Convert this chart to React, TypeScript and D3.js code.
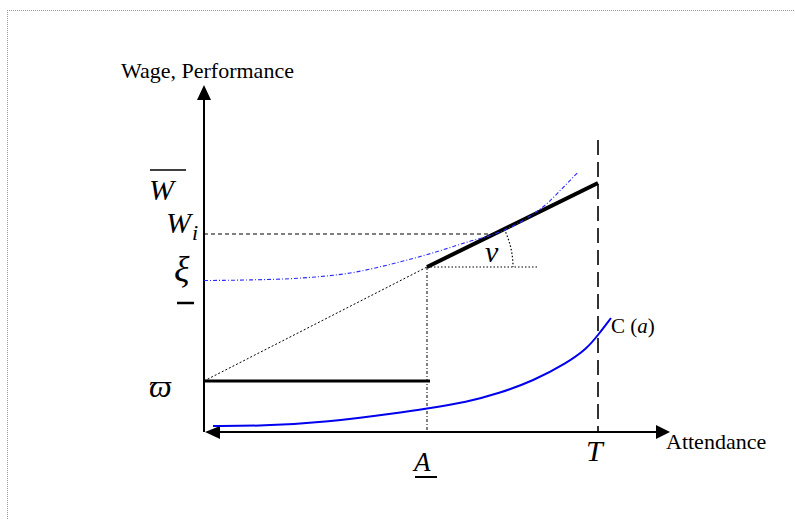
import React from "react";
import * as d3 from "d3";

// Axis markers on the attendance axis
const markLabels = ["A", "T"];
const markValues = [56.6, 100];

// Wage levels
const wageFloor = 17; // ϖ
const xiLevel = 50.5; // ξ
const wiLevel = 66; // W_i
const wageAtA = 55;
const wageAtT = 83; // W̄
const angleRefEnd = 84.8;
const tLineTop = 97.3;

// Performance curve (blue dash-dot)
const perfAttendance = [0, 11.7, 24.4, 37.1, 49.7, 58.1, 66.8, 74.4, 83.5, 87.1, 90.4, 95];
const perfValue = [50.5, 50.7, 51.3, 53, 56.7, 59.7, 63.3, 66.3, 72.6, 76.2, 80.5, 86.7];

// Cost curve C(a)
const costAttendance = [2.3, 14.7, 31.5, 48.5, 56.1, 66.8, 75.1, 83.5, 92.1, 97.2, 100, 103.3];
const costValue = [2, 2, 3.3, 6.3, 7.7, 10, 13, 17, 23, 27.8, 32.3, 38];

const W = 795;
const H = 519;

export default function App() {
  const xs = d3.scaleLinear().domain([0, 100]).range([204, 598]);
  const ys = d3.scaleLinear().domain([0, 100]).range([432, 132]);

  const A = markValues[0];
  const T = markValues[1];

  const perfLine = d3
    .line<[number, number]>()
    .x((d) => xs(d[0]))
    .y((d) => ys(d[1]))
    .curve(d3.curveMonotoneX);

  const costLine = d3
    .line<[number, number]>()
    .x((d) => xs(d[0]))
    .y((d) => ys(d[1]))
    .curve(d3.curveBasis);

  const perfPts = perfAttendance.map((a, i) => [a, perfValue[i]] as [number, number]);
  const costPts = costAttendance.map((a, i) => [a, costValue[i]] as [number, number]);

  const slope = (wageAtT - wageAtA) / (T - A);
  const wiX = A + (wiLevel - wageAtA) / slope;

  // angle arc around the start of the wage segment
  const cx = xs(A);
  const cy = ys(wageAtA);
  const r = 86;
  const ang = Math.atan2(ys(wageAtT) - cy, xs(T) - cx);
  const arcPath = `M${cx + r * Math.cos(ang)},${cy + r * Math.sin(ang)} A${r},${r} 0 0 1 ${cx + r},${cy}`;

  const x0 = xs(0);
  const y0 = ys(0);
  const serif = "'Liberation Serif', 'DejaVu Serif', serif";

  return (
    <div style={{ position: "fixed", left: 0, top: 0 }}>
      <svg width={W} height={H} style={{ display: "block", background: "#fff" }}>
        {/* frame */}
        <line x1={7} y1={10.5} x2={W} y2={10.5} stroke="#999" strokeWidth={1} strokeDasharray="1,1" />
        <line x1={7.5} y1={10} x2={7.5} y2={H} stroke="#999" strokeWidth={1} strokeDasharray="1,1" />

        {/* axes */}
        <line x1={x0} y1={y0} x2={x0} y2={98} stroke="#000" strokeWidth={2} />
        <path d={`M${x0},85 L${x0 - 7},100 L${x0 + 7},100 Z`} fill="#000" />
        <line x1={x0 + 10} y1={y0} x2={658} y2={y0} stroke="#000" strokeWidth={2} />
        <path d={`M670,${y0} L656,${y0 - 7} L656,${y0 + 7} Z`} fill="#000" />
        <path d={`M${x0 + 1},${y0} L${x0 + 16},${y0 - 6} L${x0 + 16},${y0 + 7} Z`} fill="#000" />

        {/* T boundary */}
        <line x1={xs(T)} y1={ys(tLineTop)} x2={xs(T)} y2={y0} stroke="#000" strokeWidth={1.6} strokeDasharray="15,7" />

        {/* W_i guide */}
        <line x1={x0} y1={ys(wiLevel)} x2={xs(wiX)} y2={ys(wiLevel)} stroke="#000" strokeWidth={1} strokeDasharray="4,3" />

        {/* guides from ϖ and down to A */}
        <line x1={x0} y1={ys(wageFloor)} x2={cx} y2={cy} stroke="#000" strokeWidth={1} strokeDasharray="2,2" />
        <line x1={cx} y1={cy} x2={cx} y2={y0} stroke="#000" strokeWidth={1} strokeDasharray="3,2,1,2" />
        <line x1={cx} y1={cy} x2={xs(angleRefEnd)} y2={cy} stroke="#000" strokeWidth={1.2} strokeDasharray="1.5,2" />
        <path d={arcPath} fill="none" stroke="#000" strokeWidth={1.2} strokeDasharray="1.5,2" />

        {/* wage schedule */}
        <line x1={x0} y1={ys(wageFloor)} x2={xs(A) + 3} y2={ys(wageFloor)} stroke="#000" strokeWidth={3} />
        <line x1={cx} y1={cy} x2={xs(T)} y2={ys(wageAtT)} stroke="#000" strokeWidth={4} />

        {/* performance curve */}
        <path d={perfLine(perfPts) || ""} fill="none" stroke="#2a2aff" strokeWidth={1.1} strokeDasharray="4,2,1,2" />

        {/* cost curve */}
        <path d={costLine(costPts) || ""} fill="none" stroke="#0000ee" strokeWidth={2} />

        {/* labels */}
        <text x={121} y={78} fontFamily={serif} fontSize={22}>Wage, Performance</text>
        <text x={666} y={449} fontFamily={serif} fontSize={22}>Attendance</text>
        <text x={611} y={333} fontFamily={serif} fontSize={21}>
          C (<tspan fontStyle="italic">a</tspan>)
        </text>

        <text x={149} y={200} fontFamily={serif} fontSize={30} fontStyle="italic">W</text>
        <line x1={150} y1={170} x2={186} y2={170} stroke="#000" strokeWidth={1.3} />
        <text x={166} y={233} fontFamily={serif} fontSize={30} fontStyle="italic">W</text>
        <text x={192} y={240} fontFamily={serif} fontSize={22} fontStyle="italic">i</text>

        <text x={174} y={281} fontFamily={serif} fontSize={36} fontStyle="italic">ξ</text>
        <line x1={177} y1={303} x2={194} y2={303} stroke="#000" strokeWidth={2.5} />

        <text x={149} y={397} fontFamily={serif} fontSize={32} fontStyle="italic">ϖ</text>

        <text x={485} y={262} fontFamily={serif} fontSize={30} fontStyle="italic">ν</text>

        <text x={xs(A) - 13} y={471} fontFamily={serif} fontSize={27} fontStyle="italic">{markLabels[0]}</text>
        <line x1={415} y1={477} x2={437} y2={477} stroke="#000" strokeWidth={2} />
        <text x={xs(T) - 12} y={461} fontFamily={serif} fontSize={30} fontStyle="italic">{markLabels[1]}</text>
      </svg>
    </div>
  );
}
